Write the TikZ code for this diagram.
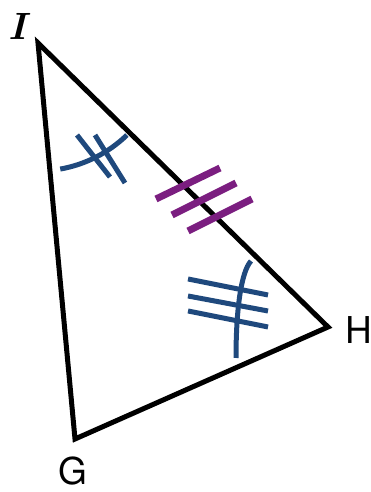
\documentclass[tikz,border=0pt]{standalone}
\usepackage{fontspec}
\setsansfont{TeX Gyre Heros}
\usepackage{tikz}
\definecolor{MarkBlue}{HTML}{1F497D}
\definecolor{MarkPurple}{HTML}{7B1E80}

\begin{document}
\begin{tikzpicture}[
  x=1pt, y=1pt,
  side/.style={line width=5pt, line join=miter},
  bluemark/.style={draw=MarkBlue, line width=5pt},
  purplemark/.style={draw=MarkPurple, line width=7pt},
  vlabel/.style={font=\sffamily\fontsize{37}{40}\selectfont, inner sep=0pt}
]
  \useasboundingbox (0,0) rectangle (371,492);
  \coordinate (I) at (38,449);
  \coordinate (H) at (328,165);
  \coordinate (G) at (75,53);
  \draw[side] (I) -- (H) -- (G) -- cycle;
  \node[vlabel, font=\rmfamily\bfseries\itshape\fontsize{38}{40}\selectfont] (labelI) at (17,466) {I};
  \node[vlabel] (labelH) at (359,162) {H};
  \node[vlabel] (labelG) at (73,21) {G};
  % angle at I
  \draw[bluemark] ([shift={(-80:128)}]I) arc (-80:-46:128);
  \draw[bluemark] (77,357) -- (110,315);
  \draw[bluemark] (95,357) -- (125,309);
  % side IH
  \draw[purplemark] (156,293) -- (220,324);
  \draw[purplemark] (172,277) -- (236,309);
  \draw[purplemark] (188,261) -- (252,293);
  % angle at H
  \draw[bluemark] (251,231) .. controls (241,220) and (236,182) .. (236,134);
  \draw[bluemark] (188,213) -- (268,197);
  \draw[bluemark] (188,196) -- (268,181);
  \draw[bluemark] (188,181) -- (268,165);
\end{tikzpicture}
\end{document}
